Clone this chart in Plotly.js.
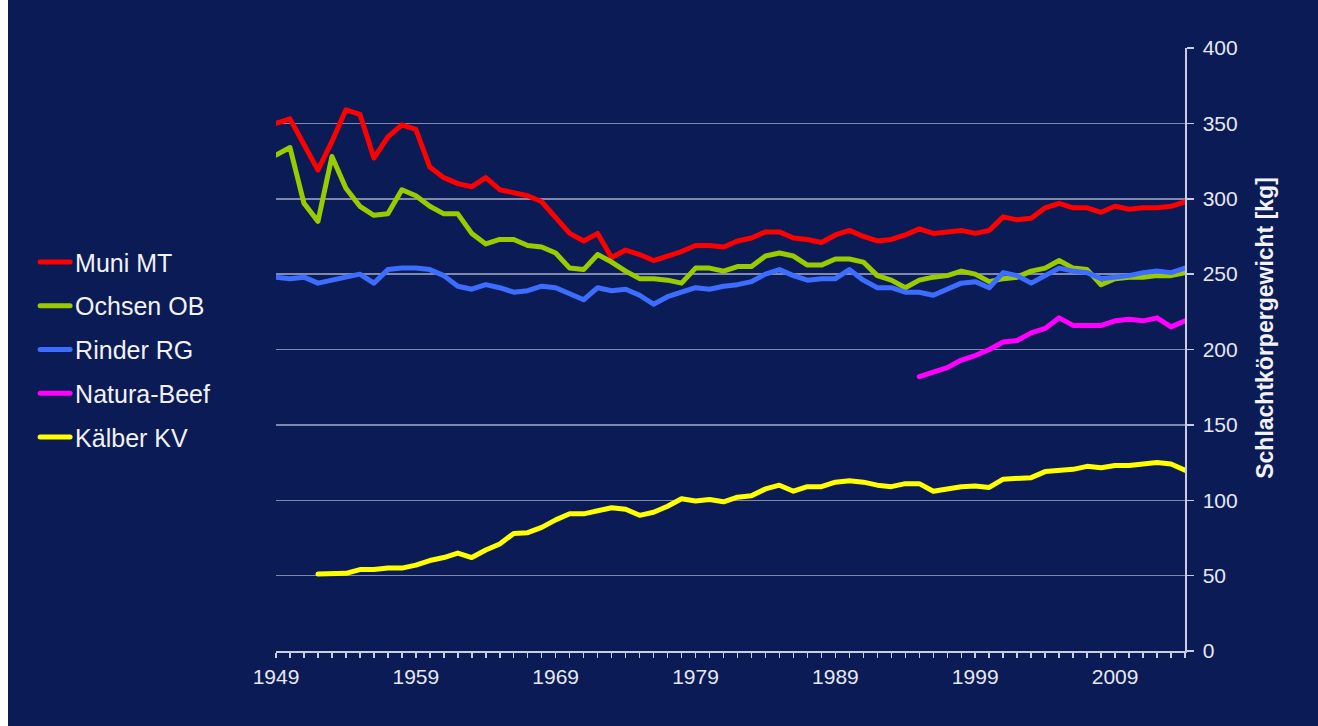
<!DOCTYPE html>
<html>
<head>
<meta charset="utf-8">
<script src="https://cdn.plot.ly/plotly-3.0.1.min.js"></script>
<style>
  html, body { margin: 0; padding: 0; background: #ffffff; }
  #chart { position: absolute; left: 8px; top: 0; width: 1310px; height: 726px; }
  #chart .js-line { stroke-linejoin: round; stroke-linecap: round; }
</style>
</head>
<body>
<div id="chart"></div>
<script>
// Jahre (Kategorien der x-Achse)
const years = [
  1949, 1950, 1951, 1952, 1953, 1954, 1955, 1956, 1957, 1958,
  1959, 1960, 1961, 1962, 1963, 1964, 1965, 1966, 1967, 1968,
  1969, 1970, 1971, 1972, 1973, 1974, 1975, 1976, 1977, 1978,
  1979, 1980, 1981, 1982, 1983, 1984, 1985, 1986, 1987, 1988,
  1989, 1990, 1991, 1992, 1993, 1994, 1995, 1996, 1997, 1998,
  1999, 2000, 2001, 2002, 2003, 2004, 2005, 2006, 2007, 2008,
  2009, 2010, 2011, 2012, 2013, 2014
];

// Schlachtkörpergewicht in kg, 1949–2014
const muniMT = [
  350, 353, 336, 319, 338, 359, 356, 327, 341, 349,
  346, 321, 314, 310, 308, 314, 306, 304, 302, 298,
  287, 277, 272, 277, 261, 266, 263, 259, 262, 265,
  269, 269, 268, 272, 274, 278, 278, 274, 273, 271,
  276, 279, 275, 272, 273, 276, 280, 277, 278, 279,
  277, 279, 288, 286, 287, 294, 297, 294, 294, 291,
  295, 293, 294, 294, 295, 298
];

const ochsenOB = [
  329, 334, 297, 285, 328, 307, 295, 289, 290, 306,
  302, 295, 290, 290, 277, 270, 273, 273, 269, 268,
  264, 254, 253, 263, 258, 252, 247, 247, 246, 244,
  254, 254, 252, 255, 255, 262, 264, 262, 256, 256,
  260, 260, 258, 249, 246, 241, 246, 248, 249, 252,
  250, 245, 247, 248, 252, 254, 259, 254, 253, 243,
  247, 248, 248, 249, 249, 251
];

const rinderRG = [
  248, 247, 248, 244, 246, 248, 250, 244, 253, 254,
  254, 253, 249, 242, 240, 243, 241, 238, 239, 242,
  241, 237, 233, 241, 239, 240, 236, 230, 235, 238,
  241, 240, 242, 243, 245, 250, 253, 249, 246, 247,
  247, 253, 246, 241, 241, 238, 238, 236, 240, 244,
  245, 241, 251, 249, 244, 249, 254, 252, 251, 247,
  248, 249, 251, 252, 251, 254
];

// Natura-Beef erst ab 1995
const naturaBeef = [
  null, null, null, null, null, null, null, null, null, null,
  null, null, null, null, null, null, null, null, null, null,
  null, null, null, null, null, null, null, null, null, null,
  null, null, null, null, null, null, null, null, null, null,
  null, null, null, null, null, null, 182, 185, 188, 193,
  196, 200, 205, 206, 211, 214, 221, 216, 216, 216,
  219, 220, 219, 221, 215, 219
];

// Kälber ab 1952
const kaelberKV = [
  null, null, null, 51, 51, 51.5, 54, 54, 55, 55,
  57, 60, 62, 65, 62, 67, 71, 78, 78.5, 82,
  87, 91, 91, 93, 95, 94, 90, 92, 96, 101,
  99.5, 100.5, 99, 102, 103, 107.5, 110, 106, 109, 109,
  112, 113, 112, 110, 109, 111, 111, 106, 107.5, 109,
  109.5, 108.5, 114, 114.5, 115, 119, 120, 120.5, 122.5, 121.5,
  123, 123, 124, 125, 124, 120
];

const seriesNames = ['Muni MT', 'Ochsen OB', 'Rinder RG', 'Natura-Beef', 'Kälber KV'];
const seriesValues = [muniMT, ochsenOB, rinderRG, naturaBeef, kaelberKV];
const seriesColors = ['#ff0000', '#99cc00', '#3d6dff', '#ff00ff', '#ffff00'];

const FONT = 'Liberation Sans, Arial, sans-serif';
const BG = '#0b1b55';
const AXIS = '#c9cde2';

const traces = seriesNames.map((name, i) => ({
  type: 'scatter',
  mode: 'lines',
  name: name,
  legendgroup: 'g' + i,
  x: years,
  y: seriesValues[i],
  connectgaps: false,
  line: { color: seriesColors[i], width: 5 },
  hoverinfo: 'x+y+name'
}));

const layout = {
  width: 1310,
  height: 726,
  paper_bgcolor: BG,
  plot_bgcolor: BG,
  margin: { l: 268, r: 133, t: 48, b: 75 },
  showlegend: true,
  legend: {
    x: -0.265, xanchor: 'left',
    y: 0.683, yanchor: 'top',
    bgcolor: 'rgba(0,0,0,0)',
    font: { family: FONT, size: 25, color: '#f2f2f6' },
    tracegroupgap: 8.25,
    traceorder: 'grouped'
  },
  xaxis: {
    type: 'linear',
    range: [1949, 2014],
    tick0: 1949,
    dtick: 10,
    ticks: 'outside',
    ticklen: 5,
    tickwidth: 1.5,
    tickcolor: AXIS,
    showline: true,
    linecolor: AXIS,
    linewidth: 1.5,
    showgrid: false,
    zeroline: false,
    ticklabelstandoff: 1,
    tickfont: { family: FONT, size: 21, color: '#e6e8f2' },
    minor: { dtick: 1, tick0: 1949, ticks: 'outside', ticklen: 5, tickwidth: 1.5, tickcolor: AXIS, showgrid: false },
    fixedrange: true
  },
  yaxis: {
    side: 'right',
    range: [0, 400],
    tick0: 0,
    dtick: 50,
    ticks: 'outside',
    ticklen: 7,
    tickwidth: 1.5,
    tickcolor: AXIS,
    showline: true,
    linecolor: AXIS,
    linewidth: 1.5,
    showgrid: true,
    gridcolor: 'rgba(205,210,232,0.6)',
    gridwidth: 1.5,
    zeroline: false,
    ticklabelstandoff: 5,
    tickfont: { family: FONT, size: 21, color: '#e6e8f2' },
    fixedrange: true
  },
  annotations: [{
    text: '<b>Schlachtkörpergewicht [kg]</b>',
    xref: 'paper', yref: 'paper',
    x: 1.088, y: 0.536,
    xanchor: 'center', yanchor: 'middle',
    textangle: -90,
    showarrow: false,
    font: { family: FONT, size: 23, color: '#f2f2f6' }
  }]
};

Plotly.newPlot('chart', traces, layout, { displayModeBar: false, staticPlot: true });
</script>
</body>
</html>
